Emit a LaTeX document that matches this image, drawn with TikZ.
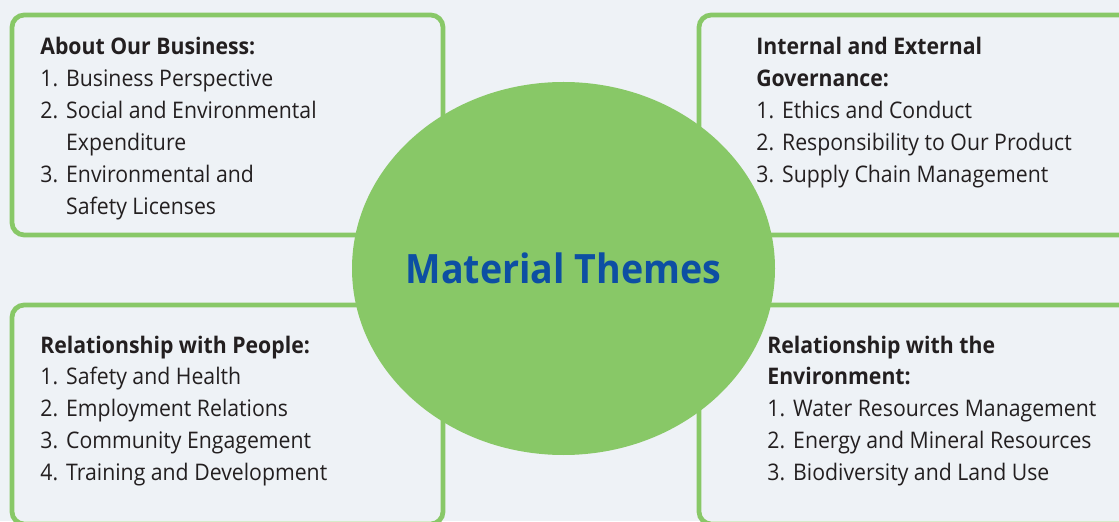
\documentclass[tikz,border=0pt]{standalone}
\usepackage{fontspec}
\setmainfont{Open Sans}[FakeStretch=0.93]
\usetikzlibrary{shapes,positioning}
\definecolor{bgColor}{HTML}{EEF2F6}
\definecolor{leafColor}{HTML}{88C867}
\definecolor{titleColor}{HTML}{0D4FA3}
\definecolor{inkColor}{HTML}{231F20}
\tikzset{
  themeBox/.style={draw=leafColor, line width=2.7pt, rounded corners=7pt},
  themeText/.style={anchor=base west, inner sep=0pt, text=inkColor,
    font=\fontsize{13}{18.1}\selectfont},
}
\newcommand{\themeList}[2]{\begin{tabular}[t]{@{}p{14.7pt}@{}l@{}}
  \multicolumn{2}{@{}l@{}}{\bfseries #1}\\ #2\end{tabular}}

\begin{document}
\begin{tikzpicture}[x=0.02cm,y=0.02cm]
\useasboundingbox (0,0) rectangle (1119,521);
\fill[bgColor] (0,0) rectangle (1119,521);
\clip (0,0) rectangle (1119,521);
% the four theme boxes
\draw[themeBox] (12,506) rectangle (443,286);
\draw[themeBox] (699,506) rectangle (1150,286);
\draw[themeBox] (12,216) rectangle (443,-3);
\draw[themeBox] (699,216) rectangle (1150,-3);
% centre
\coordinate (hub) at (563.5,252.5);
\fill[leafColor] (hub) ellipse [x radius=211.5, y radius=186.5];
\node[inner sep=0pt, text=titleColor,
  font=\fontsize{23}{28}\selectfont\bfseries] (themes) at (hub) {Material Themes};
% lists
\node[themeText] (business) at (40,466) {\themeList{About Our Business:}{%
  1. & Business Perspective\\
  2. & Social and Environmental\\
     & Expenditure\\
  3. & Environmental and\\
     & Safety Licenses}};
\node[themeText] (governance) at (756,466) {\themeList{Internal and External}{%
  \multicolumn{2}{@{}l@{}}{\bfseries Governance:}\\
  1. & Ethics and Conduct\\
  2. & Responsibility to Our Product\\
  3. & Supply Chain Management}};
\node[themeText] (people) at (40,168) {\themeList{Relationship with People:}{%
  1. & Safety and Health\\
  2. & Employment Relations\\
  3. & Community Engagement\\
  4. & Training and Development}};
\node[themeText] (environment) at (767,168) {\themeList{Relationship with the}{%
  \multicolumn{2}{@{}l@{}}{\bfseries Environment:}\\
  1. & Water Resources Management\\
  2. & Energy and Mineral Resources\\
  3. & Biodiversity and Land Use}};
\end{tikzpicture}
\end{document}
